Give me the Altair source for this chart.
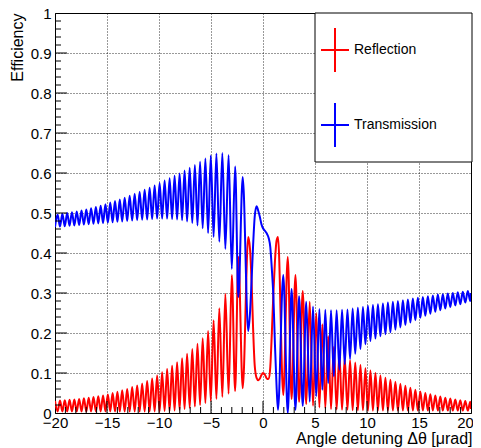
import altair as alt
import pandas as pd

# ---- data ----
angle = [
    -20.00, -19.75, -19.52, -19.29, -19.06, -18.83, -18.60, -18.37, -18.14, -17.91,
    -17.68, -17.45, -17.22, -16.99, -16.76, -16.53, -16.30, -16.07, -15.84, -15.61,
    -15.38, -15.15, -14.92, -14.69, -14.46, -14.23, -14.00, -13.77, -13.54, -13.30,
    -13.06, -12.82, -12.58, -12.34, -12.10, -11.86, -11.62, -11.38, -11.14, -10.90,
    -10.66, -10.42, -10.18, -9.94, -9.70, -9.46, -9.22, -8.98, -8.74, -8.50,
    -8.26, -8.02, -7.78, -7.54, -7.30, -7.05, -6.80, -6.55, -6.30, -6.05,
    -5.80, -5.54, -5.28, -5.02, -4.75, -4.48, -4.20, -3.91, -3.62, -3.31,
    -3.00, -2.68, -2.37, -1.95, -1.42,
    -1.25, -1.10, -0.95, -0.80, -0.62, -0.45, -0.30, -0.15, 0.00, 0.20,
    0.40, 0.55, 0.70, 0.85, 1.00, 1.15, 1.30, 1.44,
    1.95, 2.38, 2.75, 3.12, 3.47, 3.82, 4.16, 4.49, 4.81, 5.12,
    5.42, 5.71, 5.99, 6.27, 6.54, 6.81, 7.08, 7.34, 7.60, 7.86,
    8.12, 8.37, 8.62, 8.87, 9.12, 9.37, 9.61, 9.85, 10.09, 10.33,
    10.57, 10.81, 11.05, 11.29, 11.53, 11.77, 12.01, 12.25, 12.49, 12.73,
    12.97, 13.21, 13.45, 13.69, 13.93, 14.17, 14.41, 14.65, 14.89, 15.13,
    15.37, 15.61, 15.85, 16.09, 16.33, 16.57, 16.81, 17.05, 17.29, 17.53,
    17.77, 18.01, 18.25, 18.49, 18.73, 18.97, 19.21, 19.45, 19.69, 19.93,
    20.00,
]

reflection = [
    0.030, 0.004, 0.031, 0.004, 0.032, 0.004, 0.033, 0.004, 0.034, 0.004,
    0.035, 0.004, 0.037, 0.004, 0.038, 0.004, 0.040, 0.004, 0.042, 0.004,
    0.044, 0.004, 0.046, 0.004, 0.050, 0.004, 0.053, 0.004, 0.057, 0.004,
    0.060, 0.004, 0.065, 0.004, 0.069, 0.004, 0.074, 0.004, 0.080, 0.004,
    0.086, 0.004, 0.094, 0.004, 0.102, 0.005, 0.110, 0.005, 0.118, 0.006,
    0.127, 0.008, 0.137, 0.010, 0.148, 0.013, 0.160, 0.016, 0.173, 0.020,
    0.187, 0.025, 0.205, 0.030, 0.232, 0.035, 0.262, 0.040, 0.298, 0.048,
    0.345, 0.055, 0.390, 0.062, 0.440,
    0.410, 0.330, 0.210, 0.120, 0.088, 0.082, 0.086, 0.095, 0.100, 0.095,
    0.085, 0.086, 0.115, 0.200, 0.300, 0.380, 0.430, 0.440,
    0.045, 0.390, 0.035, 0.345, 0.028, 0.305, 0.022, 0.278, 0.018, 0.250,
    0.014, 0.222, 0.012, 0.192, 0.010, 0.165, 0.009, 0.148, 0.008, 0.138,
    0.008, 0.132, 0.007, 0.126, 0.007, 0.120, 0.007, 0.112, 0.006, 0.106,
    0.006, 0.100, 0.006, 0.094, 0.006, 0.088, 0.006, 0.083, 0.006, 0.078,
    0.006, 0.073, 0.006, 0.068, 0.006, 0.063, 0.006, 0.058, 0.006, 0.054,
    0.006, 0.050, 0.006, 0.047, 0.006, 0.044, 0.006, 0.041, 0.006, 0.038,
    0.006, 0.036, 0.006, 0.034, 0.006, 0.032, 0.006, 0.030, 0.006, 0.028,
    0.010,
]

transmission = [
    0.465, 0.496, 0.466, 0.498, 0.467, 0.500, 0.468, 0.502, 0.469, 0.504,
    0.470, 0.506, 0.471, 0.509, 0.472, 0.512, 0.473, 0.515, 0.474, 0.518,
    0.475, 0.522, 0.476, 0.526, 0.477, 0.530, 0.478, 0.534, 0.479, 0.538,
    0.480, 0.543, 0.481, 0.548, 0.482, 0.553, 0.483, 0.558, 0.484, 0.563,
    0.485, 0.569, 0.486, 0.575, 0.486, 0.581, 0.486, 0.587, 0.485, 0.593,
    0.484, 0.599, 0.482, 0.606, 0.479, 0.613, 0.475, 0.620, 0.469, 0.628,
    0.462, 0.636, 0.450, 0.644, 0.440, 0.649, 0.428, 0.650, 0.410, 0.645,
    0.360, 0.616, 0.290, 0.590, 0.205,
    0.250, 0.330, 0.420, 0.490, 0.517, 0.505, 0.490, 0.472, 0.462, 0.455,
    0.447, 0.437, 0.415, 0.360, 0.290, 0.170, 0.070, 0.008,
    0.345, 0.000, 0.310, 0.008, 0.292, 0.018, 0.278, 0.028, 0.266, 0.042,
    0.260, 0.058, 0.258, 0.075, 0.257, 0.092, 0.257, 0.108, 0.258, 0.122,
    0.259, 0.135, 0.261, 0.148, 0.263, 0.160, 0.265, 0.172, 0.268, 0.180,
    0.270, 0.186, 0.272, 0.192, 0.274, 0.197, 0.276, 0.202, 0.278, 0.208,
    0.280, 0.214, 0.282, 0.220, 0.284, 0.226, 0.286, 0.232, 0.288, 0.238,
    0.290, 0.243, 0.292, 0.248, 0.294, 0.253, 0.296, 0.257, 0.297, 0.261,
    0.299, 0.265, 0.300, 0.269, 0.302, 0.272, 0.303, 0.276, 0.305, 0.280,
    0.300,
]

x_major = [-20, -15, -10, -5, 0, 5, 10, 15, 20]
x_minor = [-19, -18, -17, -16, -14, -13, -12, -11, -9, -8, -7, -6, -4, -3, -2, -1,
           1, 2, 3, 4, 6, 7, 8, 9, 11, 12, 13, 14, 16, 17, 18, 19]
y_major = [0, 0.1, 0.2, 0.3, 0.4, 0.5, 0.6, 0.7, 0.8, 0.9, 1]
y_minor = [0.02, 0.04, 0.06, 0.08, 0.12, 0.14, 0.16, 0.18, 0.22, 0.24, 0.26, 0.28,
           0.32, 0.34, 0.36, 0.38, 0.42, 0.44, 0.46, 0.48, 0.52, 0.54, 0.56, 0.58,
           0.62, 0.64, 0.66, 0.68, 0.72, 0.74, 0.76, 0.78, 0.82, 0.84, 0.86, 0.88,
           0.92, 0.94, 0.96, 0.98]
series_names = ["Reflection", "Transmission"]
series_colors = ["#ff0000", "#0000ff"]

FONT = "Liberation Sans"
W, H = 416, 400

df = pd.DataFrame({"angle": angle, "Reflection": reflection, "Transmission": transmission})

xscale = alt.Scale(domain=[-20, 20], nice=False, zero=False)
yscale = alt.Scale(domain=[0, 1], nice=False, zero=False)

common = dict(grid=True, gridDash=[1, 2], gridColor="#000", gridOpacity=0.8,
              ticks=False, domain=False, labelFont=FONT, labelFontSize=15, labelColor="#000",
              labelFlush=False, labelOverlap=False,
              titleFont=FONT, titleFontSize=16, titleFontWeight="normal", titleColor="#000")

xaxis = alt.Axis(values=x_major, format="d", labelPadding=2,
                 labelOffset={"expr": "datum.value == 20 ? -6 : 0"},
                 title="Angle detuning Δθ [μrad]", titleAlign="right",
                 titleX=W + 1, titleY=30, titleBaseline="alphabetic", **common)
yaxis = alt.Axis(values=y_major, format="~g", labelPadding=4,
                 title="Efficiency", titleAlign="right", titleAngle=-90, titleX=-33, titleY=0,
                 titleBaseline="alphabetic", **common)

base = alt.Chart(df)
red = base.mark_line(color=series_colors[0], strokeWidth=2, interpolate="monotone", clip=True).encode(
    x=alt.X("angle:Q", scale=xscale, axis=xaxis),
    y=alt.Y("Reflection:Q", scale=yscale, axis=yaxis),
)
blue = base.mark_line(color=series_colors[1], strokeWidth=2, interpolate="monotone", clip=True).encode(
    x=alt.X("angle:Q", scale=xscale, axis=xaxis),
    y=alt.Y("Transmission:Q", scale=yscale, axis=yaxis),
)

def xticks(vals, length):
    return alt.Chart(pd.DataFrame({"t": vals})).mark_rule(color="#000", strokeWidth=1).encode(
        x=alt.X("t:Q", scale=xscale, axis=xaxis), y=alt.value(H), y2=alt.value(H - length))

def yticks(vals, length):
    return alt.Chart(pd.DataFrame({"t": vals})).mark_rule(color="#000", strokeWidth=1).encode(
        y=alt.Y("t:Q", scale=yscale, axis=yaxis), x=alt.value(0), x2=alt.value(length))

ticks = [xticks(x_major[1:-1], 12), xticks(x_minor, 6), yticks(y_major[1:-1], 12), yticks(y_minor, 6)]

one = pd.DataFrame({"k": [0]})
legend_box = alt.Chart(one).mark_rect(fill="white", stroke="#000", strokeWidth=1).encode(
    x=alt.value(260), x2=alt.value(W + 1), y=alt.value(0), y2=alt.value(149))

leg = []
for name, col, yc in zip(series_names, series_colors, [37, 112]):
    leg.append(alt.Chart(one).mark_rule(color=col, strokeWidth=2).encode(
        x=alt.value(280), y=alt.value(yc - 22), y2=alt.value(yc + 22)))
    leg.append(alt.Chart(one).mark_rule(color=col, strokeWidth=2).encode(
        x=alt.value(266), x2=alt.value(294), y=alt.value(yc)))
    leg.append(alt.Chart(pd.DataFrame({"lab": [name]})).mark_text(
        font=FONT, fontSize=14, align="left", baseline="middle", color="#000").encode(
        x=alt.value(299), y=alt.value(yc), text="lab:N"))

chart = alt.layer(red, blue, *ticks, legend_box, *leg).properties(
    width=W, height=H,
    padding={"left": 47, "top": 5, "right": 2, "bottom": 34},
    autosize="none",
    background="white",
).configure_view(stroke="#000", strokeWidth=1).configure_axis(labelOverlap=False)

chart.save("out.html", embed_options={"renderer": "svg", "actions": False})
